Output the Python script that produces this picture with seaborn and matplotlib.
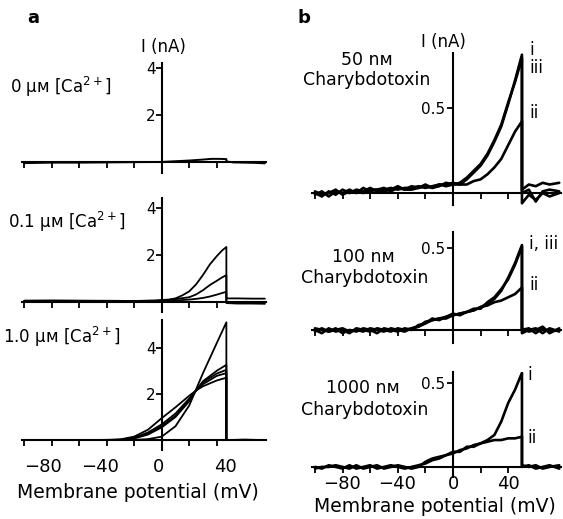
import matplotlib
matplotlib.use('Agg')
import matplotlib.pyplot as plt
import pandas as pd
import seaborn as sns

sns.set_style('white')
plt.rcParams['font.family'] = ['DejaVu Sans']
plt.rcParams['mathtext.fontset'] = 'dejavusans'
plt.rcParams['text.color'] = 'black'
plt.rcParams['axes.labelcolor'] = 'black'
plt.rcParams['xtick.color'] = 'black'
plt.rcParams['ytick.color'] = 'black'

# ---------------- data (mV, nA) ----------------
A0_V = [-100, -80, -60, -40, -20, 0, 10, 20, 30, 36, 42, 47, 47, 52, 60, 68, 75]
A0_I = [-0.05, -0.03, -0.03, -0.02, -0.01, 0.0, 0.03, 0.06, 0.1, 0.13, 0.13, 0.12, 0.02, -0.02, -0.03, -0.04, -0.06]

A1_V = [-100, -80, -60, -40, -20, -5, 0, 5, 10, 15, 20, 25, 30, 35, 40, 44, 47, 47, 55, 65, 75]
A1_I1 = [0.05, 0.06, 0.05, 0.05, 0.04, 0.06, 0.08, 0.1, 0.15, 0.28, 0.45, 0.75, 1.15, 1.6, 1.95, 2.2, 2.34, 0.15, 0.15, 0.14, 0.14]
A1_I2 = [0.05, 0.05, 0.05, 0.04, 0.04, 0.05, 0.06, 0.08, 0.12, 0.16, 0.2, 0.32, 0.5, 0.72, 0.9, 1.05, 1.14, 0.0, -0.02, -0.02, -0.03]
A1_I3 = [0.04, 0.04, 0.04, 0.03, 0.03, 0.04, 0.05, 0.05, 0.06, 0.08, 0.1, 0.13, 0.17, 0.23, 0.31, 0.38, 0.43, -0.05, -0.07, -0.07, -0.08]

A2_V = [-100, -80, -60, -40, -30, -20, -10, 0, 10, 20, 25, 30, 40, 47, 47, 60, 75]
A2_I1 = [0, 0, 0, 0, 0, 0.01, 0.04, 0.15, 0.6, 1.5, 2.2, 2.9, 4.2, 5.1, 0, 0.02, 0]
A2_I2 = [0, 0, 0, 0.01, 0.03, 0.15, 0.45, 0.95, 1.42, 1.92, 2.15, 2.33, 2.58, 2.7, 0, 0.01, 0]
A2_I3 = [0, 0, 0, 0, 0.02, 0.11, 0.33, 0.68, 1.15, 1.8, 2.15, 2.42, 2.78, 2.9, 0, 0, 0]
A2_I4 = [0, 0, 0, 0, 0.01, 0.09, 0.28, 0.6, 1.05, 1.75, 2.15, 2.5, 2.88, 3.04, 0, 0, 0]
A2_I5 = [0, 0, 0, 0, 0, 0.07, 0.24, 0.55, 1.0, 1.68, 2.15, 2.55, 3.0, 3.26, 0, 0, 0]

B_V = [-100, -95, -90, -85, -80, -75, -70, -65, -60, -55, -50, -45, -40, -35, -30, -25, -20, -15, -10, -5, 0,
       5, 10, 15, 20, 25, 30, 35, 40, 45, 50, 50, 55, 60, 65, 70, 77]

B50_i = [0.0, -0.02, 0.01, -0.01, 0.02, 0.0, 0.02, 0.01, 0.03, 0.01, 0.02, 0.03, 0.02, 0.03, 0.03, 0.04, 0.03, 0.04, 0.05, 0.05, 0.06,
         0.05, 0.08, 0.12, 0.16, 0.22, 0.3, 0.39, 0.52, 0.66, 0.81, 0.02, 0.05, 0.04, 0.06, 0.05, 0.06]
B50_iii = [-0.01, 0.01, -0.02, 0.01, 0.0, 0.02, 0.0, 0.03, 0.01, 0.02, 0.01, 0.02, 0.04, 0.02, 0.04, 0.03, 0.05, 0.03, 0.04, 0.06, 0.05,
           0.06, 0.09, 0.13, 0.17, 0.23, 0.31, 0.4, 0.53, 0.65, 0.79, -0.06, -0.01, -0.04, 0.0, -0.02, 0.0]
B50_ii = [0.01, -0.01, 0.0, 0.02, -0.01, 0.01, 0.01, 0.0, 0.02, 0.02, 0.03, 0.01, 0.03, 0.02, 0.02, 0.03, 0.04, 0.03, 0.05, 0.04, 0.05,
          0.05, 0.05, 0.07, 0.08, 0.11, 0.15, 0.2, 0.28, 0.36, 0.42, 0.0, 0.02, -0.05, 0.01, 0.02, 0.01]

B100_i = [0.0, -0.02, 0.01, -0.01, 0.0, -0.02, 0.01, 0.0, -0.01, 0.01, 0.0, -0.01, 0.01, 0.0, 0.01, 0.02, 0.05, 0.06, 0.07, 0.08, 0.09,
          0.1, 0.11, 0.12, 0.14, 0.16, 0.19, 0.24, 0.32, 0.41, 0.52, 0.0, 0.01, -0.02, 0.01, -0.01, 0.0]
B100_iii = [-0.01, 0.01, -0.01, 0.01, -0.02, 0.0, -0.01, 0.01, 0.0, -0.02, 0.01, 0.0, -0.01, 0.01, 0.0, 0.03, 0.04, 0.07, 0.06, 0.08, 0.1,
            0.09, 0.11, 0.13, 0.13, 0.17, 0.2, 0.25, 0.31, 0.4, 0.51, -0.02, 0.0, 0.01, -0.02, 0.01, -0.01]
B100_ii = [0.01, 0.0, -0.01, 0.0, 0.01, -0.01, 0.0, -0.01, 0.01, 0.0, -0.01, 0.01, 0.0, -0.01, 0.01, 0.02, 0.04, 0.06, 0.07, 0.07, 0.09,
           0.1, 0.11, 0.12, 0.14, 0.15, 0.17, 0.18, 0.2, 0.22, 0.26, 0.01, -0.01, 0.0, 0.02, -0.02, 0.01]

B1000_i = [0.0, -0.01, 0.01, 0.0, -0.01, 0.01, -0.01, 0.0, 0.01, -0.01, 0.0, 0.01, 0.0, -0.01, 0.0, 0.01, 0.02, 0.04, 0.05, 0.07, 0.08,
           0.1, 0.11, 0.13, 0.14, 0.16, 0.19, 0.27, 0.38, 0.46, 0.56, 0.0, 0.01, -0.01, 0.0, 0.01, -0.01]
B1000_ii = [-0.01, 0.0, 0.0, 0.01, 0.0, -0.01, 0.01, -0.01, 0.0, 0.01, -0.01, 0.0, 0.01, 0.0, -0.01, 0.0, 0.03, 0.05, 0.06, 0.07, 0.09,
            0.09, 0.12, 0.12, 0.14, 0.15, 0.16, 0.16, 0.17, 0.17, 0.18, 0.01, 0.0, 0.01, -0.01, 0.0, 0.01]

X_TICKS = [-100, -80, -60, -40, -20, 0, 20, 40]
X_LABELS = ['\u221280', '\u221240', '0', '40']
A_XLABEL_POS = [-86, -45, -2, 46]     # where the labels sit in panel a of the original
B_XLABEL_POS = [-80.2, -40.2, 0.2, 40.2]
A_YTICKS = [2, 4]
A_YTICKLABELS = ['2', '4']
B_YTICKS = [0.5]
B_YTICKLABELS = ['0.5']

A_LABELS = ['0 \u03bc\u043c [Ca$^{2+}$]', '0.1 \u03bc\u043c [Ca$^{2+}$]', '1.0 \u03bc\u043c [Ca$^{2+}$]']
B_CONC = ['50 n\u043c', '100 n\u043c', '1000 n\u043c']

# ---------------- figure ----------------
W, H = 563, 519
fig = plt.figure(figsize=(W / 100, H / 100), dpi=100)


def add_ax(x0, x1, y0, y1):
    return fig.add_axes([x0 / W, 1 - y1 / H, (x1 - x0) / W, (y1 - y0) / H])


def frame(data_v, traces, ax, lw):
    rows = []
    for k, tr in enumerate(traces):
        for v, i in zip(data_v, tr):
            rows.append({'V': v, 'I': i, 'trace': k})
    df = pd.DataFrame(rows)
    sns.lineplot(data=df, x='V', y='I', units='trace', estimator=None, sort=False,
                 color='black', linewidth=lw, ax=ax, legend=False)
    ax.set_xlabel('')
    ax.set_ylabel('')


def style(ax, xlim, ylim, yticks, yticklabels, label_pos, ypad, xpad):
    ax.set_xlim(*xlim)
    ax.set_ylim(*ylim)
    ax.patch.set_alpha(0)
    for s in ['top', 'right']:
        ax.spines[s].set_visible(False)
    ax.spines['left'].set_position(('data', 0))
    ax.spines['bottom'].set_position(('data', 0))
    for s in ['left', 'bottom']:
        ax.spines[s].set_linewidth(1.5)
        ax.spines[s].set_color('black')
    ax.set_xticks(X_TICKS)
    ax.set_xticklabels([''] * len(X_TICKS))
    if label_pos is not None:
        ax.set_xticks(label_pos, minor=True)
        ax.set_xticklabels(X_LABELS, minor=True, fontsize=13)
    ax.set_yticks(yticks)
    ax.set_yticklabels(yticklabels, fontsize=11)
    ax.tick_params(axis='x', which='major', direction='out', length=4, width=1.3, bottom=True)
    ax.tick_params(axis='x', which='minor', length=0, pad=xpad + 4, bottom=True)
    ax.tick_params(axis='y', direction='out', length=4, width=1.3, pad=ypad, left=True)


# panel a
XA = (-102, 76)
axa0 = add_ax(21.5, 266.25, 63, 173)
frame(A0_V, [A0_I], axa0, 1.4)
style(axa0, XA, (-0.47, 4.2), A_YTICKS, A_YTICKLABELS, None, 0.5, 8)

axa1 = add_ax(21.5, 266.25, 198, 312)
frame(A1_V, [A1_I1, A1_I2, A1_I3], axa1, 1.3)
style(axa1, XA, (-0.43, 4.43), A_YTICKS, A_YTICKLABELS, None, 0.5, 8)

axa2 = add_ax(21.5, 266.25, 320, 450)
frame(A2_V, [A2_I1, A2_I2, A2_I3, A2_I4, A2_I5], axa2, 1.3)
style(axa2, XA, (-0.43, 5.2), A_YTICKS, A_YTICKLABELS, A_XLABEL_POS, 0.5, 9)

# panel b
XB = (-102, 78)
axb0 = add_ax(312.2, 560.6, 53, 205)
frame(B_V, [B50_i, B50_iii, B50_ii], axb0, 1.9)
style(axb0, XB, (-0.07, 0.82), B_YTICKS, B_YTICKLABELS, None, 2, 6)

axb1 = add_ax(312.2, 560.6, 232, 343)
frame(B_V, [B100_i, B100_iii, B100_ii], axb1, 1.9)
style(axb1, XB, (-0.08, 0.6), B_YTICKS, B_YTICKLABELS, None, 2, 6)

axb2 = add_ax(312.2, 560.6, 372, 477)
frame(B_V, [B1000_i, B1000_ii], axb2, 1.9)
style(axb2, XB, (-0.06, 0.565), B_YTICKS, B_YTICKLABELS, B_XLABEL_POS, 2, 2)


def ftext(x, y, s, size, ha='center', va='center', weight='normal'):
    fig.text(x / W, 1 - y / H, s, fontsize=size, ha=ha, va=va, fontweight=weight, color='black')


ftext(33, 18, 'a', 13, weight='bold')
ftext(304, 18, 'b', 13, weight='bold')
ftext(163, 47, 'I (nA)', 12)
ftext(443, 42, 'I (nA)', 12)

ftext(10, 87, A_LABELS[0], 12, ha='left')
ftext(8, 222, A_LABELS[1], 12, ha='left')
ftext(3, 337, A_LABELS[2], 12, ha='left')

ftext(367, 60, B_CONC[0], 12.5)
ftext(367, 80, 'Charybdotoxin', 12.5)
ftext(363, 257, B_CONC[1], 12.5)
ftext(365, 278, 'Charybdotoxin', 12.5)
ftext(363, 388, B_CONC[2], 12.5)
ftext(365, 410, 'Charybdotoxin', 12.5)

ftext(529, 50, 'i', 12, ha='left')
ftext(529, 68, 'iii', 12, ha='left')
ftext(529, 113, 'ii', 12, ha='left')
ftext(529, 244, 'i, iii', 12, ha='left')
ftext(529, 285, 'ii', 12, ha='left')
ftext(527, 375, 'i', 12, ha='left')
ftext(527, 438, 'ii', 12, ha='left')

ftext(138, 492, 'Membrane potential (mV)', 13.5)
ftext(435, 507, 'Membrane potential (mV)', 13.5)

fig.savefig('out.png', dpi=100)
